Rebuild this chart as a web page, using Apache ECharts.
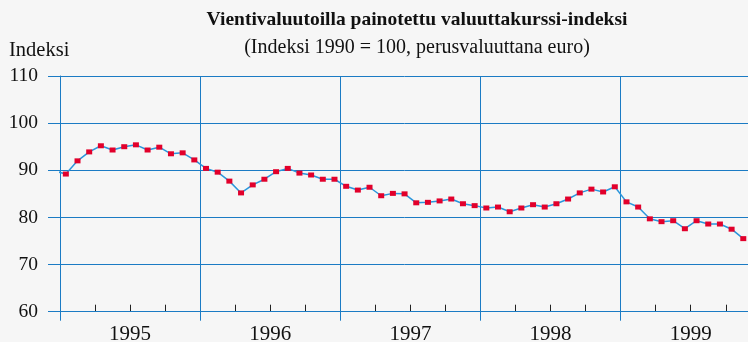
<!DOCTYPE html>
<html>
<head>
<meta charset="utf-8">
<script src="https://cdn.jsdelivr.net/npm/echarts@6/dist/echarts.min.js"></script>
<style>
  html, body { margin: 0; padding: 0; background: #f6f6f6; }
  #chart { width: 748px; height: 342px; }
</style>
</head>
<body>
<div id="chart"></div>
<script>
// Year labels on the time axis
var years = ['1995', '1996', '1997', '1998', '1999'];

// Monthly index values; first entry is December 1994, then Jan 1995 onwards
var firstMonth = '1994-12';
var indexValues = [
  89.9,
  89.2, 92.0, 93.9, 95.2, 94.3, 95.0, 95.4, 94.3, 94.9, 93.5, 93.7, 92.2,
  90.4, 89.6, 87.7, 85.2, 86.9, 88.1, 89.7, 90.4, 89.4, 89.0, 88.1, 88.1,
  86.6, 85.8, 86.4, 84.6, 85.1, 85.0, 83.1, 83.2, 83.5, 83.9, 82.9, 82.5,
  82.0, 82.2, 81.2, 82.0, 82.7, 82.2, 82.9, 83.9, 85.2, 86.0, 85.4, 86.5,
  83.3, 82.2, 79.7, 79.1, 79.3, 77.6, 79.3, 78.6, 78.6, 77.5, 75.5
];

// Y axis range
var yMin = 60, yMax = 110, yStep = 10;

var gridBlue = '#1b7bc4';
var lineBlue = '#2a96dc';
var markRed = '#e2002b';
var serif = '"Liberation Serif", "DejaVu Serif", serif';

// Place each month at its midpoint, counted from January 1995 (= month 0)
var points = indexValues.map(function (v, i) {
  return [i - 1 + 0.5, v];
});

var chart = echarts.init(document.getElementById('chart'), null, { renderer: 'canvas' });

var monthWidth = 11.68;

chart.setOption({
  backgroundColor: '#f6f6f6',
  animation: false,
  graphic: [
    {
      type: 'text', x: 417, y: 20,
      style: { text: 'Vientivaluutoilla painotettu valuuttakurssi-indeksi', font: 'bold 19.5px ' + serif,
               fill: '#111', align: 'center', verticalAlign: 'middle' }
    },
    {
      type: 'text', x: 417, y: 47.5,
      style: { text: '(Indeksi 1990 = 100, perusvaluuttana euro)', font: '20px ' + serif,
               fill: '#111', align: 'center', verticalAlign: 'middle' }
    },
    {
      type: 'text', x: 9, y: 50.5,
      style: { text: 'Indeksi', font: '20.5px ' + serif, fill: '#111', align: 'left', verticalAlign: 'middle' }
    }
  ],
  grid: {
    left: 60, top: 76, width: monthWidth * 60, height: 235.7,
    containLabel: false, outerBoundsMode: 'none'
  },
  xAxis: [
    {
      // Year bands: boundary lines and centred year labels
      type: 'category',
      data: years,
      position: 'bottom',
      boundaryGap: true,
      z: 2,
      axisLine: { show: true, lineStyle: { color: gridBlue, width: 1 } },
      axisTick: { show: true, length: 9, lineStyle: { color: gridBlue, width: 1 } },
      splitLine: { show: true, lineStyle: { color: gridBlue, width: 1 } },
      axisLabel: { show: true, margin: 12, fontFamily: serif, fontSize: 21, color: '#111' }
    },
    {
      // Month scale for the data, with quarter ticks drawn inward
      type: 'value',
      min: 0,
      max: 60,
      interval: 3,
      position: 'bottom',
      z: 1,
      axisLine: { show: false },
      axisTick: { show: true, inside: true, length: 7, lineStyle: { color: '#222', width: 1 } },
      splitLine: { show: false },
      axisLabel: { show: false }
    }
  ],
  yAxis: {
    type: 'value',
    min: yMin,
    max: yMax,
    interval: yStep,
    axisLine: { show: true, lineStyle: { color: gridBlue, width: 1 } },
    axisTick: { show: true, length: 12, lineStyle: { color: gridBlue, width: 1 } },
    splitLine: { show: true, lineStyle: { color: gridBlue, width: 1 } },
    axisLabel: { margin: 22, fontFamily: serif, fontSize: 19.5, color: '#111' }
  },
  series: [
    {
      name: firstMonth,
      type: 'line',
      xAxisIndex: 1,
      yAxisIndex: 0,
      data: points,
      clip: true,
      smooth: false,
      showAllSymbol: true,
      symbol: 'rect',
      symbolSize: [6, 5],
      lineStyle: { color: lineBlue, width: 1.5 },
      itemStyle: { color: markRed, borderWidth: 0 },
      z: 3
    }
  ]
});
</script>
</body>
</html>
